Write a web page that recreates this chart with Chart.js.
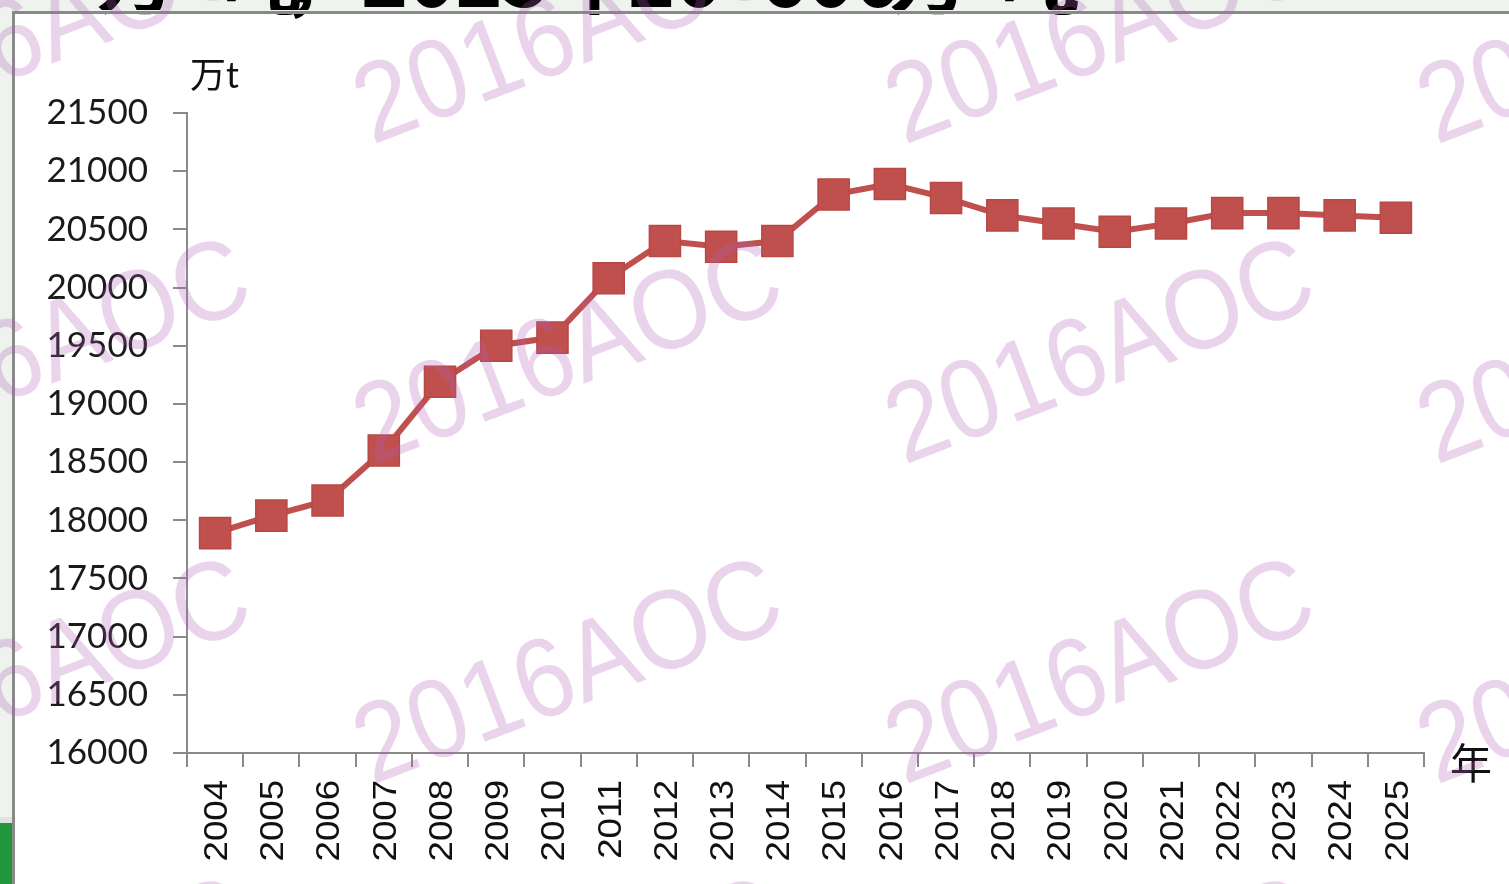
<!DOCTYPE html>
<html>
<head>
<meta charset="utf-8">
<script src="https://cdn.jsdelivr.net/npm/chart.js@4.4.1/dist/chart.umd.min.js"></script>
<style>
  html, body { margin: 0; padding: 0; background: #ffffff; overflow: hidden; }
  #c { display: block; }
</style>
</head>
<body>
<canvas id="c" width="1509" height="884"></canvas>
<script>
// ---- data ----
const years = ['2004','2005','2006','2007','2008','2009','2010','2011','2012','2013','2014',
               '2015','2016','2017','2018','2019','2020','2021','2022','2023','2024','2025'];
const output = [17890, 18040, 18170, 18600, 19190, 19500, 19570, 20080, 20400, 20350, 20400,
                20800, 20890, 20770, 20620, 20550, 20480, 20550, 20640, 20640, 20620, 20600];
const yMin = 16000;
const yMax = 21500;
const yStep = 500;
const yUnit = '万t';
const xUnit = '年';
const headText = [['万', 137, 'center'], ['吨', 262, 'center'], ['，', 320, 'center'],
                  ['2025', 361, 'left'], ['年', 590, 'center'], ['20', 628, 'left'],
                  ['600', 760, 'left'], ['万', 930, 'center'], ['吨', 1040, 'center'], ['。', 1083, 'center']];
const watermark = '2016AOC';

const W = 1509, H = 884;
const AXIS = '#8a8a8a';

const framePlugin = {
  id: 'frame',
  beforeDraw(chart) {
    const ctx = chart.ctx;
    ctx.save();
    ctx.fillStyle = '#ffffff';
    ctx.fillRect(0, 0, W, H);
    ctx.fillStyle = '#eef3ee';
    ctx.fillRect(0, 0, W, 12);
    ctx.fillRect(0, 0, 12, H);
    ctx.fillStyle = '#dfe3df';
    ctx.fillRect(0, 817, 12, 6);
    ctx.fillStyle = '#22963a';
    ctx.fillRect(0, 823, 12, H - 823);
    // heading text, cut off at top
    ctx.fillStyle = '#000000';
    ctx.font = 'bold 80px "Noto Sans CJK SC"';
    ctx.textBaseline = 'alphabetic';
    headText.forEach(([t, x, a]) => {
      ctx.textAlign = a;
      ctx.fillText(t, x, 7);
    });
    ctx.fillStyle = '#eef3ee';
    ctx.fillRect(0, 10, W, 2);
    ctx.fillStyle = AXIS;
    ctx.fillRect(12, 11, W - 12, 3);
    ctx.fillRect(12, 11, 3, H - 11);
    ctx.restore();
  },
  afterDraw(chart) {
    const ctx = chart.ctx;
    const xs = chart.scales.x;
    const area = chart.chartArea;
    ctx.save();
    // x tick labels (rotated, reading upward)
    ctx.fillStyle = '#111111';
    ctx.font = '33px "Liberation Sans"';
    ctx.textAlign = 'right';
    ctx.textBaseline = 'alphabetic';
    const cap = 0.716 * 33;
    years.forEach((lab, i) => {
      const x = xs.getPixelForValue(i);
      ctx.save();
      ctx.translate(x, xs.top + 27);
      ctx.rotate(-Math.PI / 2);
      ctx.scale(1.11, 1);
      ctx.fillText(lab, 0, cap / 2);
      ctx.restore();
    });
    // unit labels
    ctx.fillStyle = '#111111';
    ctx.textAlign = 'left';
    ctx.font = '36px Lato, "Noto Sans CJK SC"';
    ctx.fillText(yUnit, area.left + 3, area.top - 25);
    ctx.font = '42px "Noto Sans CJK SC"';
    ctx.textAlign = 'center';
    ctx.textBaseline = 'middle';
    ctx.fillText(xUnit, area.right + 47, area.bottom + 10);
    // watermark over everything
    ctx.fillStyle = 'rgba(175, 95, 185, 0.27)';
    ctx.font = '106px "Liberation Sans"';
    ctx.textAlign = 'left';
    ctx.textBaseline = 'alphabetic';
    const rows = [145, 465, 785, 1105];
    const cols = [-160, 372, 904, 1436];
    rows.forEach(ry => cols.forEach(cx => {
      ctx.save();
      ctx.translate(cx, ry);
      ctx.rotate(-21 * Math.PI / 180);
      ctx.scale(0.96, 1.06);
      ctx.fillText(watermark, 0, 0);
      ctx.restore();
    }));
    ctx.restore();
  }
};

new Chart(document.getElementById('c'), {
  type: 'line',
  data: {
    labels: years,
    datasets: [{
      data: output,
      borderColor: '#C0504D',
      borderWidth: 6,
      tension: 0,
      pointStyle: 'rect',
      pointRadius: 22,
      pointHoverRadius: 22,
      pointBackgroundColor: '#C0504D',
      pointBorderColor: '#B94744',
      pointBorderWidth: 1.5,
      fill: false
    }]
  },
  options: {
    responsive: false,
    animation: false,
    layout: { padding: { top: 113, right: 85, bottom: 0, left: 0 } },
    plugins: { legend: { display: false }, tooltip: { enabled: false }, title: { display: false } },
    scales: {
      x: {
        type: 'category',
        offset: true,
        grid: { offset: true, drawOnChartArea: false, drawTicks: true, tickLength: 14, color: AXIS, lineWidth: 2 },
        border: { display: true, color: AXIS, width: 2 },
        ticks: { display: false, autoSkip: false },
        afterFit(s) { s.height = 131; }
      },
      y: {
        min: yMin,
        max: yMax,
        grid: { drawOnChartArea: false, drawTicks: true, tickLength: 14, color: AXIS, lineWidth: 2 },
        border: { display: true, color: AXIS, width: 2 },
        ticks: {
          stepSize: yStep,
          padding: 25,
          color: '#1a1a1a',
          font: { family: 'Lato', size: 35 },
          callback: v => String(v)
        },
        afterFit(s) { s.width = 187; }
      }
    }
  },
  plugins: [framePlugin]
});
</script>
</body>
</html>
